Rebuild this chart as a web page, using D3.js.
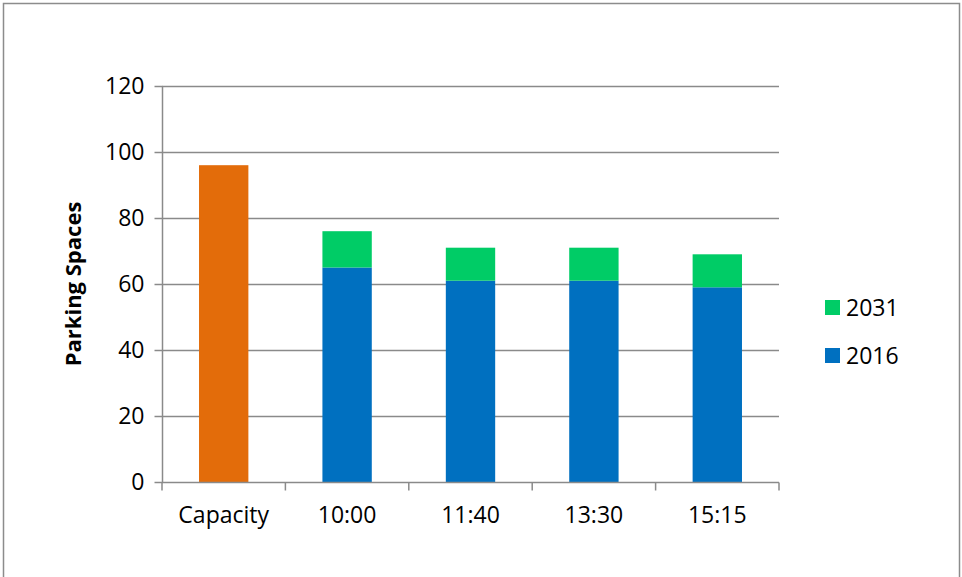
<!DOCTYPE html>
<html><head><meta charset="utf-8">
<script src="https://cdn.jsdelivr.net/npm/d3@7"></script>
<style>body{margin:0;background:#fff}svg{display:block}text{font-family:"Open Sans",sans-serif}</style>
</head><body><svg id="c" width="962" height="577"></svg>
<script>
const categories = ["Capacity","10:00","11:40","13:30","15:15"];
const capacity = [96, 0, 0, 0, 0];
const v2016 = [0, 65, 61, 61, 59];
const v2031 = [0, 11, 10, 10, 10];
const yTicks = [0,20,40,60,80,100,120];
const seriesNames = ["2031","2016"];
const colors = {cap:"#E36C0A", s2016:"#0070C0", s2031:"#00CC66"};
const FONT = "'Open Sans',sans-serif";

const svg = d3.select("#c");
const m = {l:162, r:779, t:86, b:482};
svg.append("rect").attr("x",3.5).attr("y",3.5).attr("width",956).attr("height",580)
  .attr("fill","#fff").attr("stroke","#8c8c8c").attr("stroke-width",1.5);

const x = d3.scaleBand().domain(categories).range([m.l,m.r]).paddingInner(0.6).paddingOuter(0.3);
const y = d3.scaleLinear().domain([0,120]).range([m.b,m.t]);

// gridlines
svg.append("g").selectAll("line").data(yTicks.filter(d=>d>0)).join("line")
  .attr("x1",m.l).attr("x2",m.r).attr("y1",d=>Math.round(y(d))+0.5).attr("y2",d=>Math.round(y(d))+0.5)
  .attr("stroke","#8a8a8a").attr("stroke-width",1.5);

// bars
const g = svg.append("g");
categories.forEach((c,i)=>{
  if(capacity[i]>0) g.append("rect").attr("x",x(c)).attr("width",x.bandwidth())
    .attr("y",y(capacity[i])).attr("height",y(0)-y(capacity[i])).attr("fill",colors.cap);
  if(v2016[i]>0) g.append("rect").attr("x",x(c)).attr("width",x.bandwidth())
    .attr("y",y(v2016[i])).attr("height",y(0)-y(v2016[i])).attr("fill",colors.s2016);
  if(v2031[i]>0) g.append("rect").attr("x",x(c)).attr("width",x.bandwidth())
    .attr("y",y(v2016[i]+v2031[i])).attr("height",y(v2016[i])-y(v2016[i]+v2031[i])).attr("fill",colors.s2031);
});

// y axis
const ya = svg.append("g").attr("transform",`translate(${m.l+0.5},0)`)
  .call(d3.axisLeft(y).tickValues(yTicks).tickSize(8).tickPadding(10));
ya.select(".domain").attr("stroke","#8a8a8a").attr("stroke-width",1.5).attr("d",`M0,${m.t}V${m.b}`);
ya.selectAll(".tick line").attr("stroke","#8a8a8a").attr("stroke-width",1.5);
ya.selectAll("text").attr("font-size",23).attr("fill","#000").attr("font-family",FONT);

// x axis
const xa = svg.append("g").attr("transform",`translate(0,${Math.round(y(0))+0.5})`)
  .call(d3.axisBottom(x).tickSize(0).tickPadding(24.5));
xa.select(".domain").attr("stroke","#8a8a8a").attr("stroke-width",1.5).attr("d",`M${m.l},0H${m.r}`);
xa.selectAll("text").attr("font-size",23).attr("fill","#000").attr("font-family",FONT);
const step = (m.r-m.l)/categories.length;
xa.append("g").selectAll("line").data(d3.range(categories.length+1)).join("line")
  .attr("x1",d=>m.l+d*step).attr("x2",d=>m.l+d*step).attr("y1",0).attr("y2",8)
  .attr("stroke","#8a8a8a").attr("stroke-width",1.5);

// y title
svg.append("text").attr("transform",`translate(81,${(m.t+m.b)/2}) rotate(-90)`)
  .attr("text-anchor","middle").attr("font-size",22).attr("font-weight","bold").text("Parking Spaces");

// legend
const lg = svg.append("g");
const legendColors = [colors.s2031, colors.s2016];
seriesNames.forEach((s,i)=>{
  const yy = 300 + i*48;
  lg.append("rect").attr("x",825).attr("y",yy).attr("width",15).attr("height",15).attr("fill",legendColors[i]);
  lg.append("text").attr("x",846).attr("y",yy+16).attr("font-size",23).text(s);
});
</script></body></html>
